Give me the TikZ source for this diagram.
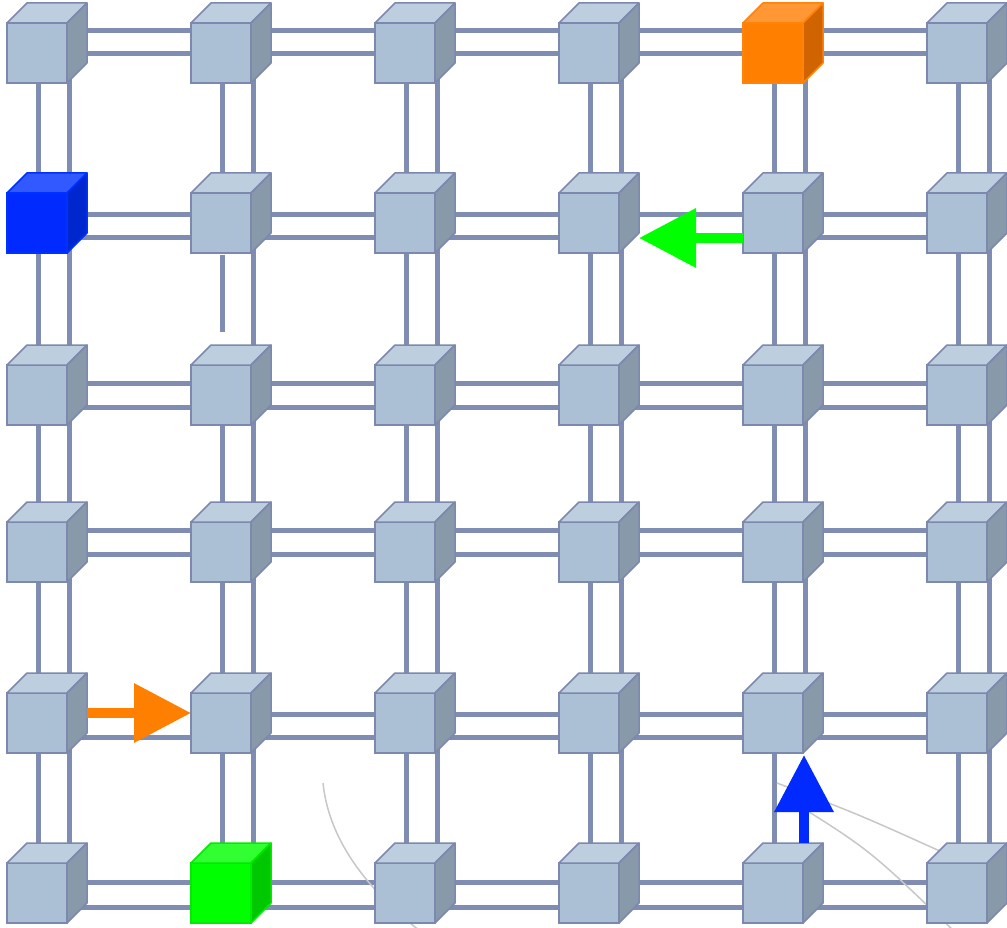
\documentclass[tikz,border=0pt]{standalone}
\usepackage{xcolor}
\usepackage{tikz}
\usetikzlibrary{arrows.meta, backgrounds, calc}
\definecolor{GreyFront}{RGB}{171,192,213}
\definecolor{GreyTop}{RGB}{189,206,222}
\definecolor{GreySide}{RGB}{136,153,170}
\definecolor{GreyEdge}{RGB}{124,136,174}
\definecolor{OrangeFront}{RGB}{255,128,0}
\definecolor{OrangeTop}{RGB}{255,152,52}
\definecolor{OrangeSide}{RGB}{208,100,0}
\definecolor{OrangeEdge}{RGB}{255,130,10}
\definecolor{BlueFront}{RGB}{0,42,255}
\definecolor{BlueTop}{RGB}{50,88,255}
\definecolor{BlueSide}{RGB}{0,38,205}
\definecolor{BlueEdge}{RGB}{0,50,255}
\definecolor{GreenFront}{RGB}{0,255,0}
\definecolor{GreenTop}{RGB}{50,255,50}
\definecolor{GreenSide}{RGB}{0,200,0}
\definecolor{GreenEdge}{RGB}{0,235,0}
\definecolor{LinkGrey}{RGB}{128,141,178}
\tikzset{
  cube/.style={rectangle, minimum size=60pt, inner sep=0pt, outer sep=0pt,
               fill=#1Front, draw=#1Edge, line width=1.5pt},
  face/.style={draw=#1Edge, line width=1.5pt, line join=round},
  link/.style={LinkGrey, line width=5pt},
  hop/.style={#1, line width=10pt, -{Triangle[length=57pt, width=57pt]}},
  smudge/.style={black!22, line width=1.5pt},
}

\begin{document}
\begin{tikzpicture}[x=1pt, y=-1pt]
  \useasboundingbox (0,0) rectangle (1007,928);

  % the 6x6 cubes, row by row
  \foreach \r/\y in {0/53, 1/223, 2/395, 3/552, 4/723, 5/893}
    \foreach \c in {0,...,5} {
      \def\tint{Grey}
      \ifnum\c\r=40 \def\tint{Orange}\fi
      \ifnum\c\r=01 \def\tint{Blue}\fi
      \ifnum\c\r=15 \def\tint{Green}\fi
      \node[cube=\tint] (n-\c-\r) at ({37+184*\c}, \y) {};
      \filldraw[face=\tint, fill=\tint Top] (n-\c-\r.north west) -- ++(20,-20)
        -- ++(60,0) -- (n-\c-\r.north east) -- cycle;
      \filldraw[face=\tint, fill=\tint Side] (n-\c-\r.north east) -- ++(20,-20)
        -- ++(0,60) -- (n-\c-\r.south east) -- cycle;
    }

  \begin{pgfonlayer}{background}
    % double links along the rows
    \foreach \r/\ya/\yb in {0/-22/1, 1/-8/15, 2/-12/12, 3/-22/2, 4/-9/14, 5/-11/14}
      \foreach \c [count=\cn from 1] in {0,...,4} {
        \ifnum\c\r=04 \else % orange hop takes this one
          \draw[link] ($(n-\c-\r)+(0,\ya)$) -- ($(n-\cn-\r)+(0,\ya)$);
        \fi
        \ifnum\c\r=31 \else % green hop takes this one
          \draw[link] ($(n-\c-\r)+(0,\yb)$) -- ($(n-\cn-\r)+(0,\yb)$);
        \fi
      }
    % double links down the columns
    \foreach \c in {0,...,5}
      \foreach \r [count=\rn from 1] in {0,...,4} {
        \ifnum\c\r=11 \else
          \draw[link] ($(n-\c-\r)+(1,0)$) -- ($(n-\c-\rn)+(1,0)$);
        \fi
        \ifnum\c\r=44 \else % blue hop takes this one
          \draw[link] ($(n-\c-\r)+(32,0)$) -- ($(n-\c-\rn)+(32,0)$);
        \fi
      }
    % broken link under cube 1-1
    \draw[link] ($(n-1-1.south)+(1,2)$) -- ($(n-1-1.south)+(1,79)$);

    % faint grey strokes
    \draw[smudge] (323,783) .. controls (330,850) and (380,900) .. (425,935);
    \draw[smudge] (777,783) .. controls (860,815) .. (942,852);
    \draw[smudge] (790,800) .. controls (870,850) .. (958,935);
  \end{pgfonlayer}

  % packet hops
  \draw[hop=GreenFront] ($(n-4-1.west)+(0,15)$) -- ($(n-3-1.east)+(20,15)$);
  \draw[hop=OrangeFront] ($(n-0-4.east)+(20,-10)$) -- ($(n-1-4.west)+(0,-10)$);
  \draw[hop=BlueFront] ($(n-4-5.north)+(31,-20)$) -- ($(n-4-4.south)+(31,2)$);
\end{tikzpicture}
\end{document}
